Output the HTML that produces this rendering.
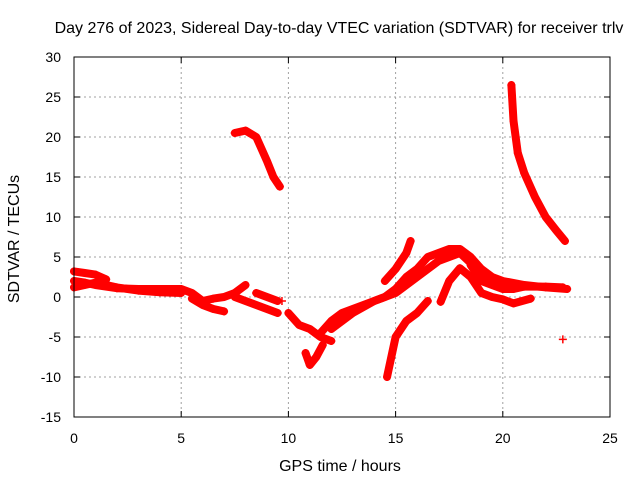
<!DOCTYPE html>
<html><head><meta charset="utf-8"><style>
body{margin:0;background:#fff}
svg text{font-family:"Liberation Sans",sans-serif;font-size:14px;fill:#000}
svg text.big{font-size:16px}
</style></head><body>
<svg id="chart" width="640" height="480" viewBox="0 0 640 480" xmlns="http://www.w3.org/2000/svg">
<text class="big" x="339" y="33" text-anchor="middle">Day 276 of 2023, Sidereal Day-to-day VTEC variation (SDTVAR) for receiver trlv</text>
<g id="grid"></g>
<g id="marks"></g>
<rect x="74" y="57" width="536" height="360" fill="none" stroke="#000" stroke-width="1"/>
<g id="ticks"></g>
<text class="big" x="340" y="471" text-anchor="middle">GPS time / hours</text>
<text class="big" transform="translate(19,239) rotate(-90)" text-anchor="middle">SDTVAR / TECUs</text>
</svg>
<script>
const xTicks=[0,5,10,15,20,25];
const yTicks=[30,25,20,15,10,5,0,-5,-10,-15];
const tracks=[
 {t:[0,0.5,1,2,3,4,5,5.5,6,6.5,7,7.5,8],v:[2,1.8,1.5,1.1,1,1,1,0.5,-0.5,-0.2,0,0.5,1.5]},
 {t:[0,0.5,1,2,3,4,5],v:[1.2,1.5,1.8,1.2,0.8,0.6,0.5]},
 {t:[0,0.5,1,1.5],v:[3.2,3,2.8,2.2]},
 {t:[5.5,6,6.5,7],v:[-0.2,-1,-1.5,-1.8]},
 {t:[7.5,8,8.5,9,9.5],v:[0,-0.5,-1,-1.5,-2]},
 {t:[8.5,9,9.5],v:[0.5,0,-0.5]},
 {t:[10,10.5,11,11.5,12],v:[-2,-3.5,-4,-5,-5.5]},
 {t:[10.8,11,11.3,11.6],v:[-7,-8.5,-7.5,-6]},
 {t:[11.5,12,12.5,13,13.5,14,14.5,15,15.5,16,16.5,17,17.5,18,18.5,19,19.5,20,21,22,23],v:[-4.5,-3,-2,-1.5,-1,-0.5,0,1,2.5,3.5,5,5.5,6,6,5,3.5,2.5,2,1.5,1.2,1]},
 {t:[12,13,14,15,16,17,18,19,20],v:[-4,-2,-0.5,0.5,2.5,4.5,5.5,3,1.5]},
 {t:[14.5,15,15.5,15.7],v:[2,3.5,5.5,7]},
 {t:[14.6,15,15.5,16,16.5],v:[-10,-5,-3,-2,-0.5]},
 {t:[17.1,17.5,18,18.5,19,19.5,20,20.5,21.3],v:[-0.6,2,3.6,2.5,0.5,0,-0.3,-0.8,-0.2]},
 {t:[18.5,19,19.5,20,20.5,21,22,22.8],v:[4,2,1.5,1,1,1.3,1.3,1.2]},
 {t:[7.5,8,8.5,9,9.3,9.6],v:[20.5,20.8,20,17,15,13.8]},
 {t:[20.4,20.5,20.7,21,21.5,22,22.5,22.9],v:[26.5,22,18,15.5,12.5,10,8.3,7]},
 {t:[22.8],v:[-5.3]},
 {t:[9.7],v:[-0.5]}
];
const NS="http://www.w3.org/2000/svg";
const X=t=>74+t*536/25, Y=v=>297-v*8;
const g=document.getElementById('grid'),tk=document.getElementById('ticks'),m=document.getElementById('marks');
function mk(tag,a,p){const e=document.createElementNS(NS,tag);for(const k in a)e.setAttribute(k,a[k]);p.appendChild(e);return e;}
xTicks.forEach(t=>{
 const l=mk('line',{x1:X(t),x2:X(t),y1:57,y2:417,stroke:'#a0a0a0','stroke-dasharray':'2,3'},g);
 
 
 const tl=mk('text',{x:X(t),y:443,'text-anchor':'middle'},tk);tl.textContent=t;
 
 
 mk('line',{x1:X(t),x2:X(t),y1:417,y2:411,stroke:'#000'},tk);
 mk('line',{x1:X(t),x2:X(t),y1:57,y2:63,stroke:'#000'},tk);
});
yTicks.forEach(v=>{
 const l=mk('line',{x1:74,x2:610,y1:Y(v),y2:Y(v),stroke:'#a0a0a0','stroke-dasharray':'2,3'},g);
 
 
 const tl=mk('text',{x:61,y:Y(v)+5,'text-anchor':'end'},tk);tl.textContent=v;
 
 
 mk('line',{x1:74,x2:80,y1:Y(v),y2:Y(v),stroke:'#000'},tk);
 mk('line',{x1:610,x2:604,y1:Y(v),y2:Y(v),stroke:'#000'},tk);
});
tracks.forEach(tr=>{
 if(tr.t.length>1){
  const pl=mk('polyline',{points:tr.t.map((t,i)=>X(t)+','+Y(tr.v[i])).join(' '),fill:'none',stroke:'#ff0000','stroke-width':8,'stroke-linejoin':'round','stroke-linecap':'round'},m);
  
  
 }
 tr.t.forEach((t,i)=>{
  const p=mk('path',{d:`M${X(t)-4},${Y(tr.v[i])}h8M${X(t)},${Y(tr.v[i])-4}v8`,stroke:'#ff0000','stroke-width':1.5},m);
  
  
 });
});
</script>
</body></html>
